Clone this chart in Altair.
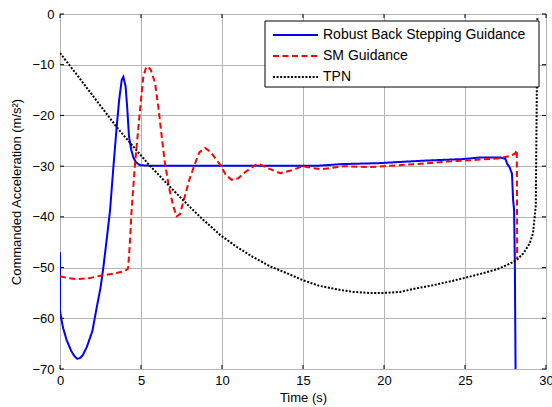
import altair as alt
import pandas as pd

# ---------------- data ----------------
series_names = ["Robust Back Stepping Guidance", "SM Guidance", "TPN"]

t_rbs = [0, 0, 0.1, 0.2, 0.41, 0.7, 0.9, 1.07, 1.25, 1.4, 1.65, 2.0, 2.27, 2.5, 2.68, 2.9,
         3.09, 3.3, 3.5, 3.65, 3.81, 3.91, 4.05, 4.15, 4.26, 4.4, 4.53, 4.7, 4.94, 5.5, 8,
         12, 16, 17.4, 19.75, 21.4, 22.6, 24.9, 25.9, 27.2, 27.5, 27.6, 27.75, 27.9, 27.97,
         28.03, 28.08, 28.12]
y_rbs = [-47, -58.4, -60.5, -62, -64.3, -66.5, -67.5, -68, -67.8, -67.3, -65.7, -62.5, -57.8,
         -54, -49.9, -44, -38.7, -30, -22.2, -17, -13.0, -12.4, -14.3, -18.5, -24.2, -26.8,
         -28.3, -29.3, -29.8, -29.9, -29.9, -29.9, -29.9, -29.6, -29.4, -29.1, -28.9, -28.6,
         -28.3, -28.3, -28.6, -29.5, -30.2, -31.5, -36.7, -38.5, -50, -70]

t_sm = [0, 0.5, 1.05, 1.8, 2.5, 3.3, 4.0, 4.2, 4.3, 4.42, 4.63, 4.94, 5.14, 5.3, 5.41, 5.6,
        5.86, 6.07, 6.28, 6.48, 6.75, 7.0, 7.2, 7.4, 7.7, 8.0, 8.3, 8.6, 8.95, 9.3, 9.6, 9.9,
        10.25, 10.6, 11.0, 11.5, 12.2, 12.9, 13.6, 14.3, 15, 15.6, 16.2, 17.5, 19.1, 21.5,
        23.9, 27, 27.8, 28.1, 28.2, 28.22]
y_sm = [-51.7, -52.1, -52.3, -52.1, -51.6, -51.2, -50.7, -50.2, -46, -38.7, -29.6, -18.9,
        -12.4, -10.7, -10.3, -11, -13.5, -18.3, -24.2, -29.5, -34.5, -38, -39.9, -39.5, -36,
        -32.5, -29.8, -27.3, -26.4, -27.2, -28.5, -29.8, -31.8, -32.7, -32.4, -31, -29.5,
        -30.5, -31.4, -30.8, -30, -30.4, -30.6, -30, -30.2, -29.7, -29.1, -28.5, -28, -27.5,
        -26.8, -48.3]

t_tpn = [0, 1, 2, 3.5, 5.4, 6.8, 8.0, 8.85, 9.9, 10.9, 11.9, 13.0, 14.0, 15.0, 16.0, 17.1,
         18.1, 19.1, 20, 21, 22, 23, 24, 24.9, 26, 27, 27.6, 28.2, 28.6, 29.0, 29.2, 29.3,
         29.37, 29.42, 29.47]
y_tpn = [-7.7, -11.8, -16, -22.3, -29.4, -34.1, -38, -40.6, -43.6, -45.9, -47.9, -49.8,
         -51.1, -52.5, -53.6, -54.3, -54.8, -55, -55, -54.8, -54.1, -53.5, -52.8, -52.1,
         -51.2, -50.3, -49.5, -48.5, -47.2, -45.2, -43.2, -40, -37.7, -20, -0.5]

x_ticks = [0, 5, 10, 15, 20, 25, 30]
y_ticks = [0, -10, -20, -30, -40, -50, -60, -70]

# legend layout (pixels inside the plot area)
legend_row_y = [21, 42, 63]

# ---------------- table ----------------
rows = []
for name, ts, ys in zip(series_names, [t_rbs, t_sm, t_tpn], [y_rbs, y_sm, y_tpn]):
    for i, (t, y) in enumerate(zip(ts, ys)):
        rows.append({"series": name, "t": t, "y": y, "idx": i})
df = pd.DataFrame(rows)
leg_df = pd.DataFrame({"series": series_names, "ly": legend_row_y})

W, H = 486, 355
FONT = "Liberation Sans"

xscale = alt.Scale(domain=[0, 30], nice=False, zero=False)
yscale = alt.Scale(domain=[-70, 0], nice=False, zero=False)
cscale = alt.Scale(domain=series_names, range=["#0000ff", "#ff0000", "#000000"])
dscale = alt.Scale(domain=series_names, range=[[1, 0], [6, 3.5], [2, 1.6]])

xaxis = alt.Axis(values=x_ticks, title="Time (s)", grid=True, ticks=False, domain=False,
                 labelPadding=5, titlePadding=4, labelFlush=False)
yaxis = alt.Axis(values=y_ticks, title="Commanded Acceleration (m/s²)", grid=True,
                 ticks=False, domain=False, labelPadding=6, titlePadding=8,
                 labelFlush=False)

lines = alt.Chart(df).mark_line(strokeWidth=2, clip=True, strokeCap="butt").encode(
    x=alt.X("t:Q", scale=xscale, axis=xaxis),
    y=alt.Y("y:Q", scale=yscale, axis=yaxis),
    color=alt.Color("series:N", scale=cscale, legend=None),
    strokeDash=alt.StrokeDash("series:N", scale=dscale, legend=None),
    order="idx:Q",
)

# inward tick marks on all four sides
xt = pd.DataFrame({"v": x_ticks})
yt = pd.DataFrame({"v": y_ticks})
xb = alt.Chart(xt).mark_rule(color="black", strokeWidth=1).encode(
    x=alt.X("v:Q", scale=xscale), y=alt.value(H), y2=alt.value(H - 4))
xtp = alt.Chart(xt).mark_rule(color="black", strokeWidth=1).encode(
    x=alt.X("v:Q", scale=xscale), y=alt.value(0), y2=alt.value(4))
yl = alt.Chart(yt).mark_rule(color="black", strokeWidth=1).encode(
    y=alt.Y("v:Q", scale=yscale), x=alt.value(0), x2=alt.value(4))
yr = alt.Chart(yt).mark_rule(color="black", strokeWidth=1).encode(
    y=alt.Y("v:Q", scale=yscale), x=alt.value(W), x2=alt.value(W - 4))

# legend box, symbols and labels
box = alt.Chart(pd.DataFrame({"a": [0]})).mark_rect(
    fill="white", stroke="black", strokeWidth=1).encode(
    x=alt.value(205), x2=alt.value(479), y=alt.value(7), y2=alt.value(73))
sym = alt.Chart(leg_df).mark_rule(strokeWidth=2, strokeCap="butt").encode(
    x=alt.value(213), x2=alt.value(258),
    y=alt.Y("ly:Q", scale=None, axis=None),
    color=alt.Color("series:N", scale=cscale, legend=None),
    strokeDash=alt.StrokeDash("series:N", scale=dscale, legend=None),
)
lab = alt.Chart(leg_df).mark_text(align="left", baseline="middle", fontSize=14,
                                  font=FONT, color="black").encode(
    x=alt.value(263), y=alt.Y("ly:Q", scale=None, axis=None), text="series:N")

chart = alt.layer(xb, xtp, yl, yr, lines, box, sym, lab).properties(
    width=W, height=H,
    autosize=alt.AutoSizeParams(type="none"),
    padding={"left": 60, "top": 14, "right": 6, "bottom": 38},
    background="white",
).configure_view(
    stroke="black", strokeWidth=1
).configure_axis(
    labelFont=FONT, titleFont=FONT, labelFontSize=13, titleFontSize=13,
    labelColor="black", titleColor="black", titleFontWeight="normal",
    gridColor="#b4b4b4", gridWidth=1,
)

chart.save("out.html", embed_options={"renderer": "svg", "actions": False})
